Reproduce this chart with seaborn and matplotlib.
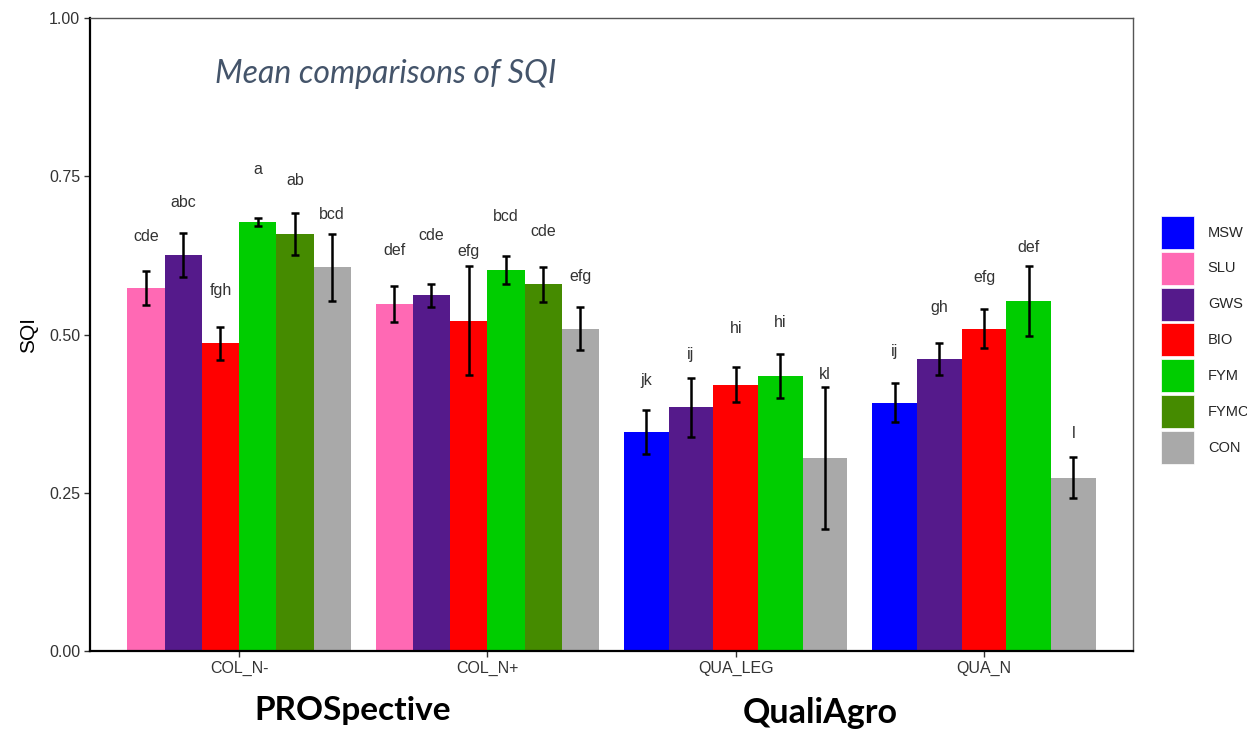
import numpy as np
import pandas as pd
import matplotlib
matplotlib.use("Agg")
import matplotlib.pyplot as plt
import matplotlib.patches as mpatches
import seaborn as sns

# ---- data ----
groups = ["COL_N-", "COL_N+", "QUA_LEG", "QUA_N"]
treatments_all = ["MSW", "SLU", "GWS", "BIO", "FYM", "FYMC", "CON"]
colors = ["#0000FF", "#FF69B4", "#551A8B", "#FF0000", "#00CD00", "#458B00", "#A9A9A9"]

site = ["COL_N-"] * 6 + ["COL_N+"] * 6 + ["QUA_LEG"] * 5 + ["QUA_N"] * 5
treatment = ["SLU", "GWS", "BIO", "FYM", "FYMC", "CON",
             "SLU", "GWS", "BIO", "FYM", "FYMC", "CON",
             "MSW", "GWS", "BIO", "FYM", "CON",
             "MSW", "GWS", "BIO", "FYM", "CON"]
sqi_mean = [0.573, 0.626, 0.486, 0.678, 0.659, 0.606,
            0.548, 0.562, 0.522, 0.602, 0.579, 0.509,
            0.346, 0.385, 0.421, 0.434, 0.305,
            0.392, 0.461, 0.509, 0.553, 0.274]
sqi_se = [0.027, 0.035, 0.026, 0.006, 0.033, 0.053,
          0.028, 0.018, 0.086, 0.022, 0.027, 0.034,
          0.034, 0.047, 0.028, 0.035, 0.112,
          0.031, 0.025, 0.031, 0.055, 0.033]
letters = ["cde", "abc", "fgh", "a", "ab", "bcd",
           "def", "cde", "efg", "bcd", "cde", "efg",
           "jk", "ij", "hi", "hi", "kl",
           "ij", "gh", "efg", "def", "l"]
# height (SQI units) at which each letter group is written
letter_y = [0.655, 0.708, 0.569, 0.760, 0.743, 0.689,
            0.632, 0.656, 0.631, 0.686, 0.662, 0.591,
            0.427, 0.468, 0.509, 0.519, 0.437,
            0.473, 0.543, 0.590, 0.637, 0.344]

df = pd.DataFrame({"site": site, "treatment": treatment, "SQI": sqi_mean,
                   "se": sqi_se, "letter": letters, "ly": letter_y})
palette = dict(zip(treatments_all, colors))

# ---- plot ----
sns.set_theme(style="white")
plt.rcParams["font.family"] = ["Liberation Sans", "DejaVu Sans"]

fig = plt.figure(figsize=(12.47, 7.31), dpi=100)
ax = fig.add_axes([0.0722, 0.1094, 0.8364, 0.866])

for g in groups:
    sub = df[df["site"] == g]
    present = [t for t in treatments_all if t in set(sub["treatment"])]
    n_before = len(ax.patches)
    sns.barplot(data=sub, x="site", y="SQI", hue="treatment", order=groups,
                hue_order=present, palette=palette, width=0.9, dodge=True,
                errorbar=None, legend=False, saturation=1, ax=ax, linewidth=0)
    new_patches = ax.patches[n_before:]
    for _, row in sub.iterrows():
        p = min(new_patches, key=lambda pp: abs(pp.get_height() - row["SQI"]))
        xc = p.get_x() + p.get_width() / 2
        ax.errorbar(xc, row["SQI"], yerr=row["se"], fmt="none", ecolor="black",
                    elinewidth=1.8, capsize=2.6, capthick=1.8, zorder=5)
        ax.text(xc, row["ly"], row["letter"], ha="center", va="center",
                fontsize=11.5, color="#333333")

ax.set_xlim(-0.6, 3.6)
ax.set_ylim(0, 1.0)
ax.set_yticks([0, 0.25, 0.5, 0.75, 1.0])
ax.set_yticklabels(["0.00", "0.25", "0.50", "0.75", "1.00"])
ax.set_xlabel("")
ax.set_ylabel("SQI", fontsize=15, color="black", labelpad=8)
ax.tick_params(axis="both", which="both", direction="out", length=4, width=1,
               colors="#333333", labelsize=11.5, pad=3, bottom=True, left=True)

for s in ["left", "bottom"]:
    ax.spines[s].set_color("black")
    ax.spines[s].set_linewidth(1.6)
for s in ["top", "right"]:
    ax.spines[s].set_color("#555555")
    ax.spines[s].set_linewidth(1.0)

ax.text(0.12, 0.912, "Mean comparisons of SQI", transform=ax.transAxes,
        fontsize=23, style="italic", color="#44546A", family=["Lato", "DejaVu Sans"],
        ha="left", va="center")

handles = [mpatches.Patch(facecolor=c, edgecolor="white", linewidth=0.5, label=t)
           for t, c in zip(treatments_all, colors)]
fig.legend(handles=handles, loc="center left", bbox_to_anchor=(0.931, 0.535),
           frameon=False, fontsize=10.5, handlelength=2.26, handleheight=3.1,
           labelspacing=0.2, handletextpad=0.95, borderpad=0, borderaxespad=0)

fig.text(0.283, 0.028, "PROSpective", ha="center", va="center", fontsize=24,
         weight="bold", family=["Lato", "DejaVu Sans"], color="black")
fig.text(0.658, 0.024, "QualiAgro", ha="center", va="center", fontsize=24.5,
         weight="bold", family=["Lato", "DejaVu Sans"], color="black")

fig.savefig("out.png", dpi=100, facecolor="white")
